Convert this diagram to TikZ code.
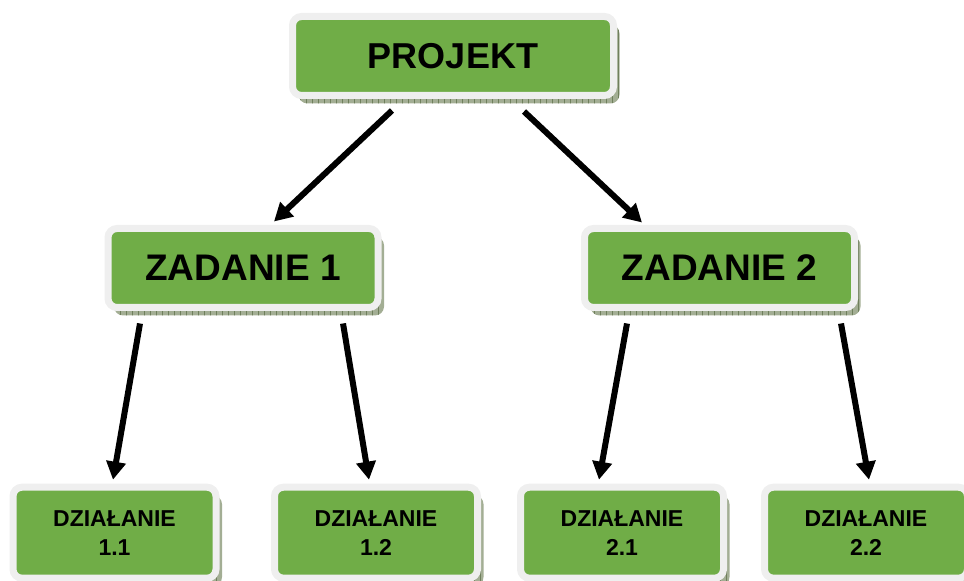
\documentclass[tikz,border=0pt]{standalone}
\usepackage{fontspec}
\setmainfont{Liberation Sans}
\usetikzlibrary{arrows.meta,shadows,patterns.meta,calc}
\definecolor{boxgreen}{HTML}{70AD47}
\definecolor{rimgray}{HTML}{EFEFEF}
\definecolor{shadowfill}{HTML}{A3AE94}
\definecolor{shadowline}{HTML}{6F7F5C}
\tikzset{
  boxbase/.style={rectangle, rounded corners=9pt, fill=boxgreen, draw=rimgray,
    line width=7pt, inner sep=0pt, font=\bfseries, align=center,
    general shadow={shadow xshift=6pt, shadow yshift=-8pt, fill=shadowfill},
    general shadow={shadow xshift=6pt, shadow yshift=-8pt,
      pattern={Lines[angle=90, distance=6pt, line width=0.6pt]}, pattern color=shadowline}},
  topbox/.style={boxbase, minimum width=321pt, minimum height=79pt,
    font=\fontsize{36}{40}\selectfont\bfseries},
  midbox/.style={boxbase, minimum width=270pt, minimum height=79pt,
    font=\fontsize{37}{40}\selectfont\bfseries},
  lowbox/.style={boxbase, minimum width=203pt, minimum height=91pt,
    font=\fontsize{23}{29}\selectfont\bfseries},
  arr/.style={line width=6pt, -{Triangle[length=18pt, width=19pt]}, black}
}
\begin{document}
\begin{tikzpicture}[x=1pt, y=1pt]
\useasboundingbox (0,0) rectangle (964,581);
\clip (0,0) rectangle (964,581);
\node[topbox] (p) at (453,525) {PROJEKT};
\node[midbox] (z1) at (243,313) {ZADANIE 1};
\node[midbox] (z2) at (719.5,313) {ZADANIE 2};
\node[lowbox] (d11) at (114.5,48.3) {DZIAŁANIE\\1.1};
\node[lowbox] (d12) at (376,48.3) {DZIAŁANIE\\1.2};
\node[lowbox] (d21) at (622,48.3) {DZIAŁANIE\\2.1};
\node[lowbox] (d22) at (866,48.3) {DZIAŁANIE\\2.2};
\draw[arr] ([xshift=-61pt, yshift=-11.5pt]p.south) -- ([xshift=31pt, yshift=3.5pt]z1.north);
\draw[arr] ([xshift=71pt, yshift=-12.5pt]p.south) -- ([xshift=-77.5pt, yshift=2.5pt]z2.north);
\draw[arr] ([xshift=-103pt, yshift=-12.5pt]z1.south) -- ([xshift=-1.5pt, yshift=4pt]d11.north);
\draw[arr] ([xshift=100pt, yshift=-12.5pt]z1.south) -- ([xshift=-7pt, yshift=4pt]d12.north);
\draw[arr] ([xshift=-92.5pt, yshift=-12.5pt]z2.south) -- ([xshift=-23pt, yshift=4pt]d21.north);
\draw[arr] ([xshift=121.5pt, yshift=-12.5pt]z2.south) -- ([xshift=3pt, yshift=4pt]d22.north);
\end{tikzpicture}
\end{document}
